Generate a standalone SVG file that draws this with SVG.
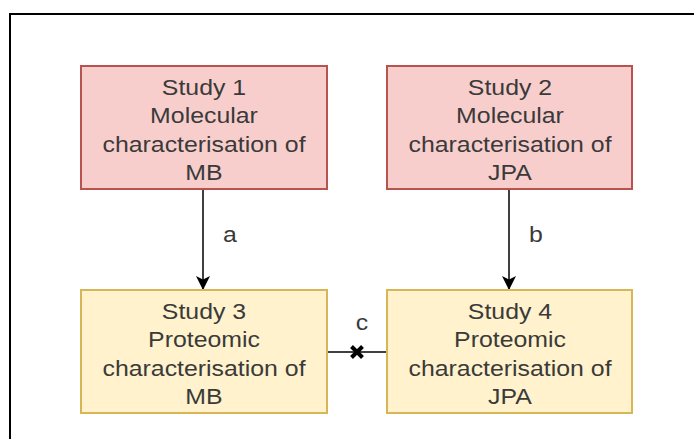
<svg xmlns="http://www.w3.org/2000/svg" width="694" height="439" viewBox="0 0 694 439">
<style>
.frame{fill:#fff;stroke:#000;stroke-width:2}
.pink{fill:#f8cecc;stroke:#b85450;stroke-width:2}
.yellow{fill:#fff2cc;stroke:#d6b656;stroke-width:2}
.t{font-family:"Liberation Sans",Arial,sans-serif;font-size:22px;fill:#3a3a3a;text-anchor:middle}
.edge{stroke:#000;stroke-width:1.5;fill:none}
</style>
<defs>
<marker id="arr" markerWidth="14" markerHeight="14" viewBox="0 0 14 14" refX="14" refY="7" orient="auto" markerUnits="userSpaceOnUse">
<path d="M0,0 L14,7 L0,14 L3.5,7 Z" fill="#000"/>
</marker>
</defs>
<rect x="0" y="0" width="694" height="439" fill="#fff"/>
<rect class="frame" x="10" y="14" width="700" height="440"/>
<g id="connectors">
<line class="edge" x1="203" y1="189" x2="203" y2="290" marker-end="url(#arr)"/>
<line class="edge" x1="509" y1="189" x2="509" y2="290" marker-end="url(#arr)"/>
<line class="edge" x1="387" y1="352" x2="327" y2="352"/>
<path d="M351.5,346.5 L362.5,357.5 M362.5,346.5 L351.5,357.5" stroke="#000" stroke-width="4"/>
<g transform="translate(230,242) scale(1.13,1)"><text class="t" x="0" y="0">a</text></g>
<g transform="translate(536,242) scale(1.13,1)"><text class="t" x="0" y="0">b</text></g>
<g transform="translate(362,330) scale(1.13,1)"><text class="t" x="0" y="0">c</text></g>
</g>
<g id="study1">
<rect class="pink" x="81" y="66" width="246" height="123"/>
<g transform="translate(204,0) scale(1.13,1)">
<text class="t" x="0" y="95">Study 1</text>
<text class="t" x="0" y="123">Molecular</text>
<text class="t" x="0" y="152">characterisation of</text>
<text class="t" x="0" y="180">MB</text>
</g>
</g>
<g id="study2">
<rect class="pink" x="387" y="66" width="245" height="123"/>
<g transform="translate(510,0) scale(1.13,1)">
<text class="t" x="0" y="95">Study 2</text>
<text class="t" x="0" y="123">Molecular</text>
<text class="t" x="0" y="152">characterisation of</text>
<text class="t" x="0" y="180">JPA</text>
</g>
</g>
<g id="study3">
<rect class="yellow" x="81" y="290" width="246" height="123"/>
<g transform="translate(204,0) scale(1.13,1)">
<text class="t" x="0" y="319">Study 3</text>
<text class="t" x="0" y="347">Proteomic</text>
<text class="t" x="0" y="376">characterisation of</text>
<text class="t" x="0" y="404">MB</text>
</g>
</g>
<g id="study4">
<rect class="yellow" x="387" y="290" width="245" height="123"/>
<g transform="translate(510,0) scale(1.13,1)">
<text class="t" x="0" y="319">Study 4</text>
<text class="t" x="0" y="347">Proteomic</text>
<text class="t" x="0" y="376">characterisation of</text>
<text class="t" x="0" y="404">JPA</text>
</g>
</g>
</svg>
